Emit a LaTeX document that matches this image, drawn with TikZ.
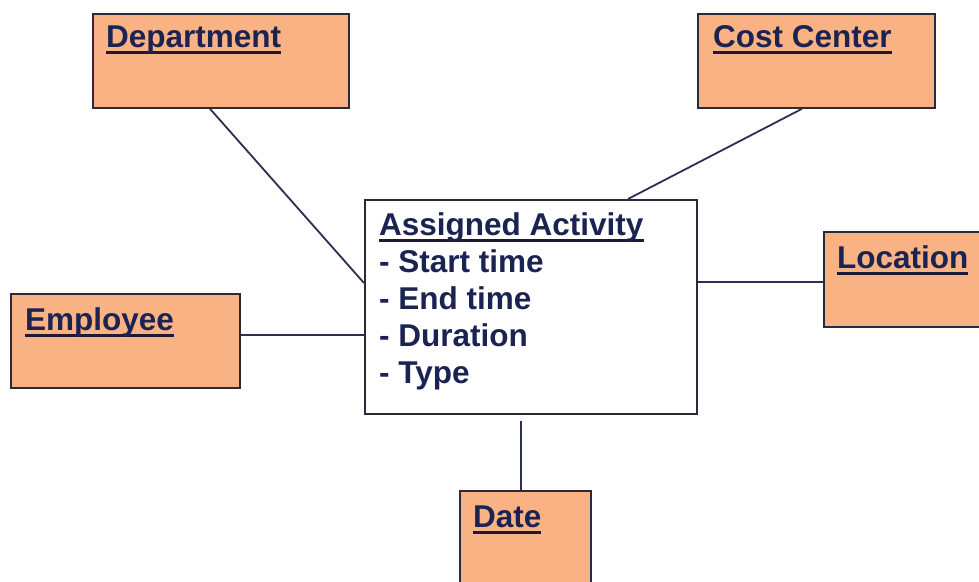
\documentclass[tikz,border=0pt]{standalone}
\usepackage{fontspec}
\setmainfont{Liberation Sans}
\usetikzlibrary{calc}
\definecolor{boxfill}{HTML}{F8B283}
\definecolor{boxline}{HTML}{2A2A3A}
\definecolor{txtcol}{HTML}{1B2352}
\definecolor{ulcol}{HTML}{1E1A33}
\definecolor{linecol}{HTML}{2A3050}
\newsavebox\myulbox
\newcommand\myul[1]{\sbox\myulbox{#1}\rlap{\textcolor{ulcol}{\rule[-6.5pt]{\wd\myulbox}{2.5pt}}}\usebox\myulbox}
\tikzset{
  entbox/.style={draw=boxline, fill=boxfill, line width=1.8pt, inner sep=0pt, anchor=north west},
  mainbox/.style={draw=boxline, fill=white, line width=1.8pt, inner sep=0pt, anchor=north west},
  lbl/.style={anchor=base west, inner sep=0pt, text=txtcol, font=\fontsize{31.5pt}{37pt}\selectfont\bfseries},
  conn/.style={draw=linecol, line width=1.8pt}
}
\begin{document}
\begin{tikzpicture}[x=1pt,y=-1pt]
\useasboundingbox (0,0) rectangle (979,581);
\fill[white] (0,0) rectangle (979,581);
% boxes
\node[entbox, minimum width=256pt, minimum height=94pt] (dept) at (92,13) {};
\node[entbox, minimum width=237pt, minimum height=94pt] (cc) at (697,13) {};
\node[entbox, minimum width=170pt, minimum height=95pt] (loc) at (823,231) {};
\node[entbox, minimum width=229pt, minimum height=94pt] (emp) at (10,293) {};
\node[entbox, minimum width=131pt, minimum height=110pt] (date) at (459,490) {};
\node[mainbox, minimum width=332pt, minimum height=214pt] (act) at (364,199) {};
% labels
\node[lbl] (deptl) at (106,47) {\myul{Department}};
\node[lbl] (ccl) at (713,47) {\myul{Cost Center}};
\node[lbl] (locl) at (837,268) {\myul{Location}};
\node[lbl] (empl) at (25,330) {\myul{Employee}};
\node[lbl] (datel) at (473,527) {\myul{Date}};
\node[lbl] (a0) at (379,235) {\myul{Assigned Activity}};
\node[lbl] (a1) at (379,272) {- Start time};
\node[lbl] (a2) at (379,309) {- End time};
\node[lbl] (a3) at (379,346) {- Duration};
\node[lbl] (a4) at (379,383) {- Type};
% connectors
\draw[conn] ($(dept.south west)+(118,0)$) -- ($(act.north west)+(0,84)$);
\draw[conn] ($(cc.south west)+(105,0)$) -- ($(act.north west)+(264,0)$);
\draw[conn] ($(act.north east)+(0,83)$) -- ($(loc.north west)+(0,51)$);
\draw[conn] ($(emp.north east)+(0,42)$) -- ($(act.north west)+(0,136)$);
\coordinate (dtop) at ($(act.south west)+(157,6)$);
\draw[conn] (dtop) -- ($(date.north west)+(62,0)$);
\end{tikzpicture}
\end{document}
